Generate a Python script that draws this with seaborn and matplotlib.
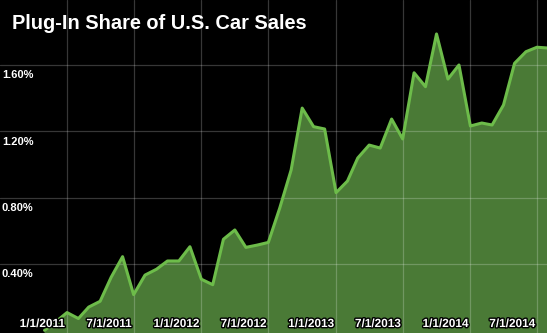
import matplotlib
matplotlib.use("Agg")
import matplotlib.pyplot as plt
import matplotlib.dates as mdates
import matplotlib.patheffects as pe
import numpy as np
import pandas as pd
import seaborn as sns

# ---- data ----
months = pd.date_range("2010-11-01", "2014-08-01", freq="MS")
share = [0.0, 0.05,
         0.107, 0.071, 0.14, 0.175, 0.32, 0.444, 0.215, 0.333, 0.368, 0.418, 0.418, 0.504,
         0.308, 0.275, 0.549, 0.605, 0.50, 0.514, 0.53, 0.737, 0.967, 1.340, 1.228, 1.214,
         0.830, 0.900, 1.039, 1.117, 1.099, 1.274, 1.154, 1.553, 1.469, 1.787, 1.515, 1.600,
         1.232, 1.250, 1.238, 1.359, 1.610, 1.680, 1.707, 1.702]
tick_dates = ["2011-01-01", "2011-07-01", "2012-01-01", "2012-07-01",
              "2013-01-01", "2013-07-01", "2014-01-01", "2014-07-01"]
tick_labels = ["1/1/2011", "7/1/2011", "1/1/2012", "7/1/2012",
               "1/1/2013", "7/1/2013", "1/1/2014", "7/1/2014"]
y_ticks = [0.40, 0.80, 1.20, 1.60]
y_labels = ["0.40%", "0.80%", "1.20%", "1.60%"]
title = "Plug-In Share of U.S. Car Sales"

df = pd.DataFrame({"month": months, "share": share})

sns.set_theme(style="dark")
plt.rcParams["font.family"] = ["Liberation Sans", "DejaVu Sans"]

fig = plt.figure(figsize=(5.47, 3.33), dpi=100)
fig.patch.set_facecolor("black")
ax = fig.add_axes([0, 0, 1, 1])
ax.set_facecolor("black")

fill_color = "#4a7a36"
line_color = "#6dbc4a"

ax.fill_between(df["month"], df["share"], -1, color=fill_color, zorder=1, linewidth=0)
sns.lineplot(data=df, x="month", y="share", ax=ax, color=line_color, linewidth=2.2, zorder=3)

# axis limits from pixel calibration
t0 = mdates.date2num(pd.Timestamp("2011-01-01"))
t1 = mdates.date2num(pd.Timestamp("2014-07-01"))
px_per_day = (537 - 67) / (t1 - t0)
left = t0 - 67 / px_per_day
right = left + 547 / px_per_day
ax.set_xlim(left, right)
per_px = 0.4 / 66.33
ax.set_ylim((330.3 - 333) * per_px, 330.3 * per_px)

# grid lines
for d in tick_dates:
    ax.axvline(pd.Timestamp(d), color="white", alpha=0.22, linewidth=0.9, zorder=2)
for yv in y_ticks:
    ax.axhline(yv, color="white", alpha=0.22, linewidth=0.9, zorder=2)

ax.set_xticks([])
ax.set_yticks([])
ax.set_xlabel("")
ax.set_ylabel("")
for s in ax.spines.values():
    s.set_visible(False)

stroke = [pe.withStroke(linewidth=2.0, foreground="black")]
for d, lab in zip(tick_dates, tick_labels):
    ax.text(pd.Timestamp(d) - pd.Timedelta(days=5), 6 / 333, lab,
            transform=ax.get_xaxis_transform(), ha="right", va="baseline",
            color="white", fontsize=8.5, fontweight="bold", path_effects=stroke, zorder=5)

for yv, lab in zip(y_ticks, y_labels):
    ax.text(2 / 547, yv - 13.5 * per_px, lab, transform=ax.get_yaxis_transform(),
            ha="left", va="baseline", color="white", fontsize=8, fontweight="bold", zorder=5)

fig.text(12 / 547, 1 - 29.3 / 333, title, ha="left", va="baseline", color="white",
         fontsize=14.4, fontweight="bold")

fig.savefig("out.png", dpi=100, facecolor="black")
